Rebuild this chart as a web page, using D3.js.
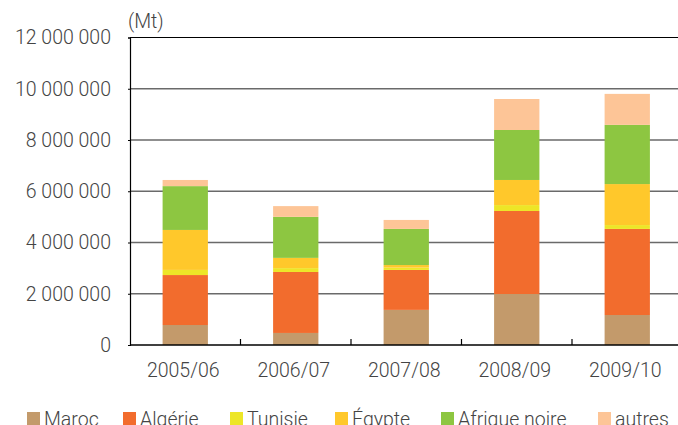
<!DOCTYPE html>
<html>
<head>
<meta charset="utf-8">
<script src="https://cdn.jsdelivr.net/npm/d3@7"></script>
<style>
  html, body { margin: 0; padding: 0; background: #fff; }
  svg { display: block; }
  text { font-family: Roboto, "Open Sans", sans-serif; font-weight: 300; fill: #444; }
</style>
</head>
<body>
<svg id="chart" width="678" height="425"></svg>
<script>
// Campaign years
const categories = ["2005/06", "2006/07", "2007/08", "2008/09", "2009/10"];

// Series, in stacking order (tonnes)
const seriesNames = ["Maroc", "Algérie", "Tunisie", "Égypte", "Afrique noire", "autres"];
const maroc       = [780000, 470000, 1370000, 1990000, 1170000];
const algerie     = [1950000, 2380000, 1560000, 3240000, 3360000];
const tunisie     = [200000, 150000, 90000, 230000, 150000];
const egypte      = [1560000, 400000, 100000, 980000, 1600000];
const afriqueNoire = [1710000, 1600000, 1410000, 1950000, 2310000];
const autres      = [240000, 420000, 350000, 1210000, 1210000];
const seriesColors = ["#c39a6b", "#f26c2d", "#ede627", "#ffc82b", "#8dc641", "#fdc597"];

// Y axis ticks
const yTicks = [0, 2000000, 4000000, 6000000, 8000000, 10000000, 12000000];
const yMax = 12000000;
const unitLabel = "(Mt)";

const seriesValues = [maroc, algerie, tunisie, egypte, afriqueNoire, autres];
const rows = categories.map((c, i) => {
  const r = { year: c };
  seriesNames.forEach((s, j) => { r[s] = seriesValues[j][i]; });
  return r;
});

const svg = d3.select("#chart");
const plotLeft = 130, plotRight = 682.5, plotTop = 37.5, plotBottom = 345;

const x = d3.scaleBand().domain(categories).range([plotLeft, plotRight])
  .paddingInner(0.59).paddingOuter(0.295);
const y = d3.scaleLinear().domain([0, yMax]).range([plotBottom, plotTop]);
const color = d3.scaleOrdinal().domain(seriesNames).range(seriesColors);

// Thousands separated by spaces
const fmt = v => d3.format(",")(v).replace(/,/g, " ");

// Gridlines
svg.append("g").selectAll("line")
  .data(yTicks.filter(t => t > 0))
  .join("line")
  .attr("x1", plotLeft).attr("x2", 678)
  .attr("y1", d => y(d)).attr("y2", d => y(d))
  .attr("stroke", d => d === yMax ? "#000" : "#6a6a6a")
  .attr("stroke-width", d => d === yMax ? 1 : 1.6);

// Stacked bars
const stacked = d3.stack().keys(seriesNames)(rows);
svg.append("g").selectAll("g")
  .data(stacked)
  .join("g")
  .attr("fill", d => color(d.key))
  .selectAll("rect")
  .data(d => d)
  .join("rect")
  .attr("x", d => x(d.data.year))
  .attr("width", x.bandwidth())
  .attr("y", d => y(d[1]))
  .attr("height", d => y(d[0]) - y(d[1]));

// Y axis
const yAxis = d3.axisLeft(y).tickValues(yTicks).tickFormat(fmt).tickSize(2).tickPadding(17);
const gy = svg.append("g").attr("transform", `translate(${plotLeft},0)`).call(yAxis);
gy.select(".domain").attr("stroke", "#000").attr("stroke-width", 1.2);
gy.selectAll(".tick line").attr("stroke", "#000");
gy.selectAll(".tick text").attr("font-size", 19.5).attr("fill", "#444")
  .attr("font-family", "Roboto, sans-serif").attr("font-weight", 300);

// X axis: ticks between categories, pointing inward
const xAxisG = svg.append("g");
xAxisG.append("line")
  .attr("x1", plotLeft).attr("x2", 678).attr("y1", plotBottom).attr("y2", plotBottom)
  .attr("stroke", "#000").attr("stroke-width", 1.5);
xAxisG.selectAll("line.sep")
  .data(categories.slice(1))
  .join("line")
  .attr("class", "sep")
  .attr("x1", d => x(d) - x.step() * 0.295).attr("x2", d => x(d) - x.step() * 0.295)
  .attr("y1", plotBottom).attr("y2", plotBottom - 6)
  .attr("stroke", "#000").attr("stroke-width", 1.2);
xAxisG.selectAll("text")
  .data(categories)
  .join("text")
  .attr("x", d => x(d) + x.bandwidth() / 2 - 2)
  .attr("y", 377)
  .attr("text-anchor", "middle")
  .attr("font-size", 19.5)
  .text(d => d);

// Unit label
svg.append("text").attr("x", 128).attr("y", 28).attr("font-size", 19.5).text(unitLabel);

// Legend
const legendX = [27, 123, 230, 335, 441, 598];
const lg = svg.append("g").selectAll("g")
  .data(seriesNames)
  .join("g")
  .attr("transform", (d, i) => `translate(${legendX[i]},412)`);
lg.append("rect").attr("width", 13).attr("height", 13).attr("fill", d => color(d));
lg.append("text").attr("x", 17).attr("y", 13.5).attr("font-size", 19.5).text(d => d);
</script>
</body>
</html>
